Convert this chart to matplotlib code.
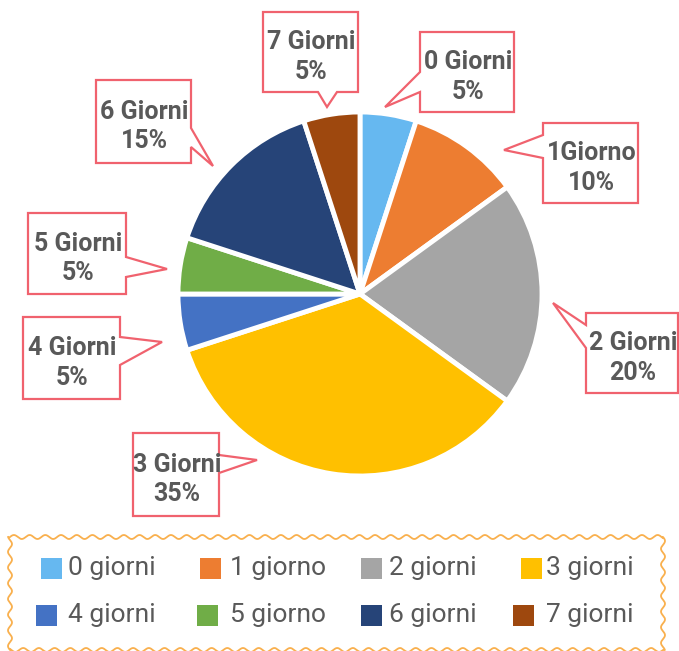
import numpy as np
import matplotlib
matplotlib.use('Agg')
import matplotlib.pyplot as plt
from matplotlib.patches import Polygon, Rectangle
from matplotlib import font_manager

# data
days = ["0", "1", "2", "3", "4", "5", "6", "7"]
values = [5, 10, 20, 35, 5, 5, 15, 5]
callout_names = ["0 Giorni", "1Giorno", "2 Giorni", "3 Giorni",
                 "4 Giorni", "5 Giorni", "6 Giorni", "7 Giorni"]
legend_names = ["0 giorni", "1 giorno", "2 giorni", "3 giorni",
                "4 giorni", "5 giorno", "6 giorni", "7 giorni"]
colors = ["#66B8F0", "#ED7D31", "#A5A5A5", "#FFC000",
          "#4472C4", "#70AD47", "#264478", "#9E480E"]

W, H = 679, 651
names = {f.name for f in font_manager.fontManager.ttflist}
font = "Roboto" if "Roboto" in names else "DejaVu Sans"
plt.rcParams['font.family'] = [font, 'DejaVu Sans']

fig = plt.figure(figsize=(W / 100, H / 100), dpi=100)

# pie, placed in pixel space
cx, cy, r = 360, 294, 182
pad = 8
ax_pie = fig.add_axes([(cx - r - pad) / W, (H - cy - r - pad) / H,
                       2 * (r + pad) / W, 2 * (r + pad) / H])
lim = (r + pad) / r
ax_pie.pie(values, colors=colors, startangle=90, counterclock=False, radius=1,
           wedgeprops=dict(edgecolor='white', linewidth=3.5))
ax_pie.set_xlim(-lim, lim)
ax_pie.set_ylim(-lim, lim)
ax_pie.axis('off')

# overlay in pixel coords (y down)
ax = fig.add_axes([0, 0, 1, 1])
ax.set_xlim(0, W)
ax.set_ylim(H, 0)
ax.axis('off')

# callout boxes: box, side of the pointer, pointer base, tip
callouts = [
    ((420, 32, 514, 112), 'left', (72, 92), (385, 107)),
    ((543, 123, 638, 203), 'left', (135, 158), (504, 150)),
    ((586, 313, 678, 393), 'left', (325, 348), (553, 303)),
    ((133, 433, 219, 516), 'right', (455, 473), (257, 460)),
    ((23, 317, 120, 399), 'right', (337, 365), (162, 342)),
    ((28, 213, 126, 294), 'right', (257, 277), (167, 269)),
    ((96, 80, 191, 163), 'right', (128, 147), (213, 166)),
    ((263, 12, 358, 92), 'bottom', (318, 337), (327, 107)),
]


def callout_points(box, side, base, tip):
    x0, y0, x1, y1 = box
    if side == 'left':
        return [(x0, y0), (x1, y0), (x1, y1), (x0, y1),
                (x0, base[1]), tip, (x0, base[0])]
    if side == 'right':
        return [(x0, y0), (x1, y0), (x1, base[0]), tip,
                (x1, base[1]), (x1, y1), (x0, y1)]
    return [(x0, y0), (x1, y0), (x1, y1), (base[1], y1), tip,
            (base[0], y1), (x0, y1)]


for i, (box, side, base, tip) in enumerate(callouts):
    ax.add_patch(Polygon(callout_points(box, side, base, tip), closed=True,
                         facecolor='white', edgecolor='#F0626E', linewidth=1.6))
    ax.text((box[0] + box[2]) / 2 + 1, (box[1] + box[3]) / 2 + 5,
            f"{callout_names[i]}\n{values[i]}%", ha='center', va='center',
            fontsize=18, fontweight='bold', color='#595959', linespacing=1.3)


# legend with wavy border
def wavy_border(x0, y0, x1, y1, amp=2.0, period=15.7):
    pts = []
    for (ax0, ay0, ax1, ay1) in [(x0, y0, x1, y0), (x1, y0, x1, y1),
                                 (x1, y1, x0, y1), (x0, y1, x0, y0)]:
        L = np.hypot(ax1 - ax0, ay1 - ay0)
        t = np.linspace(0, L, int(L * 2))
        ux, uy = (ax1 - ax0) / L, (ay1 - ay0) / L
        nx, ny = uy, -ux
        off = amp * np.sin(2 * np.pi * t / period)
        pts.append(np.column_stack([ax0 + ux * t + nx * off,
                                    ay0 + uy * t + ny * off]))
    return np.vstack(pts)


border = wavy_border(10, 537, 663, 650)
ax.plot(border[:, 0], border[:, 1], color='#F9B04E', linewidth=1.3)

sq_x = [[41, 200, 361, 521], [36, 197, 361, 513]]
txt_x = [68, 230, 389, 546]
row_y = [568, 615]
sq = 21
for k in range(len(values)):
    row, col = divmod(k, 4)
    ax.add_patch(Rectangle((sq_x[row][col], row_y[row] - sq / 2), sq, sq,
                           facecolor=colors[k], edgecolor='none'))
    ax.text(txt_x[col], row_y[row], legend_names[k], ha='left', va='center',
            fontsize=19, color='#595959')

fig.savefig('out.png', dpi=100)
